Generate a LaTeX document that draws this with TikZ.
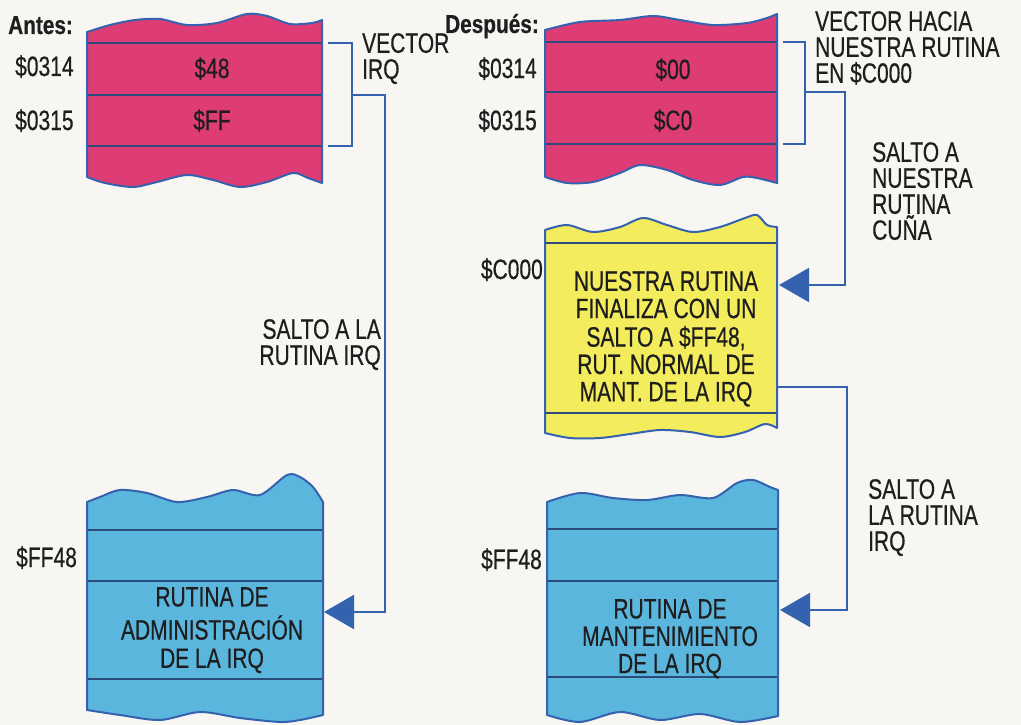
\documentclass[tikz,border=0pt]{standalone}
\usepackage{fontspec}
\setmainfont{Liberation Sans}[FakeStretch=0.75,FakeBold=0.5]
\newfontfamily\headfont{Liberation Sans Bold}[FakeStretch=0.8,FakeBold=0.5]
\usetikzlibrary{arrows.meta}
\definecolor{pinkc}{HTML}{DE3C74}
\definecolor{yellowc}{HTML}{F3EC5C}
\definecolor{bluec}{HTML}{5BB6DE}
\definecolor{edgec}{HTML}{3462AE}
\definecolor{rowc}{HTML}{2C4A7A}
\definecolor{inkc}{HTML}{1E1E1E}
\definecolor{bgc}{HTML}{F7F6F2}
\tikzset{
  txt/.style={font=\fontsize{28}{26}\selectfont, text=inkc, inner sep=0pt},
  head/.style={font=\headfont\fontsize{26}{28}\selectfont, text=inkc, inner sep=0pt},
  membox/.style={draw=edgec, line width=2pt, line join=round},
  rowline/.style={draw=rowc, line width=1.6pt},
  conn/.style={draw=edgec, line width=2pt},
  arr/.style={conn, -{Triangle[length=30pt,width=34pt]}},
}
\begin{document}
\begin{tikzpicture}[x=1pt,y=-1pt]
\useasboundingbox[fill=bgc] (0,0) rectangle (1021,725);

% ---------- Left pink box (Antes) ----------
\path[membox, fill=pinkc] plot[smooth] coordinates {(87,32) (110,25) (135,20) (160,19) (187,25) (217,23) (247,14) (267,16) (290,24) (312,23) (322,20)}
  -- plot[smooth] coordinates {(322,183) (308,178) (293,173) (267,182) (240,187) (213,180) (187,175) (157,182) (133,187) (105,183) (87,177)} -- cycle;
\foreach \yy in {43,95,146} \draw[rowline] (88,\yy) -- (321,\yy);

% ---------- Right pink box (Despues) ----------
\path[membox, fill=pinkc] plot[smooth] coordinates {(545,30) (580,22) (620,20) (653,16) (680,20) (713,25) (747,23) (767,18) (777,14)}
  -- plot[smooth] coordinates {(777,183) (757,178) (743,177) (720,185) (693,180) (667,170) (640,165) (620,173) (593,182) (567,183) (545,177)} -- cycle;
\foreach \yy in {42,92,144} \draw[rowline] (546,\yy) -- (776,\yy);

% ---------- Yellow box ----------
\path[membox, fill=yellowc] plot[smooth] coordinates {(545,230) (567,225) (593,232) (620,227) (643,218) (667,225) (693,232) (720,227) (745,218) (757,215) (767,225) (777,227)}
  -- plot[smooth] coordinates {(777,428) (765,424) (745,432) (720,437) (690,432) (660,430) (630,434) (600,438) (570,438) (545,433)} -- cycle;
\foreach \yy in {243,413} \draw[rowline] (546,\yy) -- (776,\yy);

% ---------- Left blue box ----------
\path[membox, fill=bluec] plot[smooth] coordinates {(87,502) (100,497) (120,490) (147,493) (177,502) (207,497) (233,490) (260,495) (287,475) (300,477) (313,487) (323,502)}
  -- plot[smooth] coordinates {(323,715) (300,720) (280,722) (240,718) (200,712) (160,720) (120,715) (87,710)} -- cycle;
\foreach \yy in {530,581,679} \draw[rowline] (88,\yy) -- (322,\yy);

% ---------- Right blue box ----------
\path[membox, fill=bluec] plot[smooth] coordinates {(547,502) (580,493) (613,498) (647,500) (680,495) (713,498) (737,483) (753,480) (770,487) (778,490)}
  -- plot[smooth] coordinates {(778,716) (740,722) (700,714) (660,720) (620,712) (580,722) (547,715)} -- cycle;
\foreach \yy in {529,581,677} \draw[rowline] (548,\yy) -- (777,\yy);

% ---------- Texts ----------
\node[head, anchor=base west] (antes) at (8,34) {Antes:};
\node[head, anchor=base east] (despues) at (539,33) {Después:};

\node[txt, anchor=base west] (la314) at (15,76) {\$0314};
\node[txt, anchor=base west] (la315) at (15,130) {\$0315};
\node[txt, anchor=base west] (laff) at (16,567) {\$FF48};
\node[txt, anchor=base] (v48) at (212,78) {\$48};
\node[txt, anchor=base] (vff) at (212,130) {\$FF};

\node[txt, anchor=base east] (ra314) at (537,78) {\$0314};
\node[txt, anchor=base east] (ra315) at (537,130) {\$0315};
\node[txt, anchor=base east] (rac000) at (543,279) {\$C000};
\node[txt, anchor=base east] (raff) at (542,569) {\$FF48};
\node[txt, anchor=base] (v00) at (673,79) {\$00};
\node[txt, anchor=base] (vc0) at (673,130) {\$C0};

\node[txt, anchor=north west, align=left] (vecirq) at (362,33) {VECTOR\\IRQ};
\node[txt, anchor=north east, align=right] (saltoL) at (381,319) {SALTO A LA\\RUTINA IRQ};
\node[txt, anchor=north] (admin) at (212,587) {\begin{tabular}{@{}c@{}}RUTINA DE\\[1pt]ADMINISTRACIÓN\\[1pt]DE LA IRQ\end{tabular}};

\node[txt, anchor=north west, align=left] (vechacia) at (815,11) {VECTOR HACIA\\NUESTRA RUTINA\\EN \$C000};
\node[txt, anchor=north west, align=left] (saltoN) at (872,142) {SALTO A\\NUESTRA\\RUTINA\\CUÑA};
\node[txt, anchor=north] (nuestra) at (666,271) {\begin{tabular}{@{}c@{}}NUESTRA RUTINA\\FINALIZA CON UN\\SALTO A \$FF48,\\RUT. NORMAL DE\\MANT. DE LA IRQ\end{tabular}};
\node[txt, anchor=north west, align=left] (saltoR) at (868,479) {SALTO A\\LA RUTINA\\IRQ};
\node[txt, anchor=north] (mant) at (670,599) {\begin{tabular}{@{}c@{}}RUTINA DE\\MANTENIMIENTO\\DE LA IRQ\end{tabular}};

% ---------- Connectors ----------
\coordinate (lbA) at (328,43);  \coordinate (lbB) at (352,43);
\coordinate (lbC) at (352,146); \coordinate (lbD) at (328,146);
\coordinate (lbM) at (352,95);  \coordinate (lcT) at (385,95);
\coordinate (lcB) at (385,612); \coordinate (ltip) at (324,612);
\draw[conn] (lbA) -- (lbB) -- (lbC) -- (lbD);
\draw[arr] (lbM) -- (lcT) -- (lcB) -- (ltip);

\coordinate (rbA) at (783,42);  \coordinate (rbB) at (805,42);
\coordinate (rbC) at (805,144); \coordinate (rbD) at (783,144);
\coordinate (rbM) at (805,92);  \coordinate (rcT) at (845,92);
\coordinate (rcB) at (845,285); \coordinate (rtip) at (779,285);
\draw[conn] (rbA) -- (rbB) -- (rbC) -- (rbD);
\draw[arr] (rbM) -- (rcT) -- (rcB) -- (rtip);

\coordinate (ysrc) at (778,387); \coordinate (ycT) at (847,387);
\coordinate (ycB) at (847,610);  \coordinate (btip) at (780,610);
\draw[arr] (ysrc) -- (ycT) -- (ycB) -- (btip);
\end{tikzpicture}
\end{document}
